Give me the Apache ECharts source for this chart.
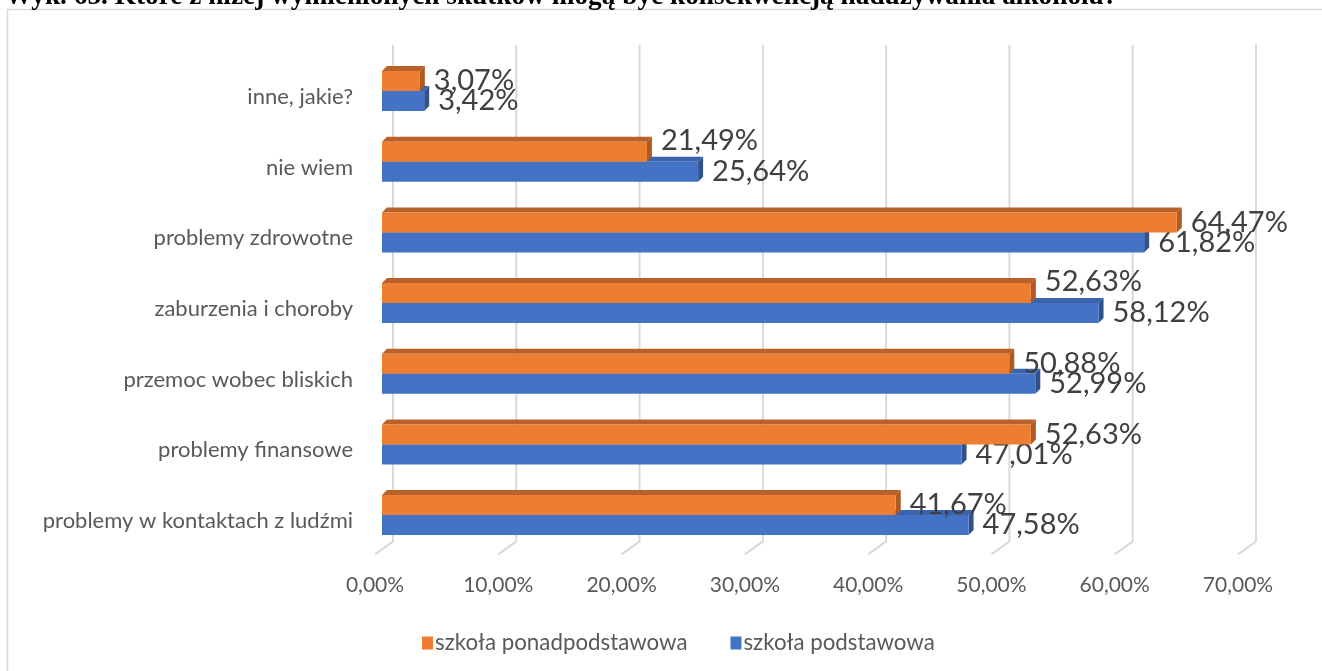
<!DOCTYPE html>
<html><head><meta charset="utf-8">
<script src="https://cdn.jsdelivr.net/npm/echarts@6/dist/echarts.min.js"></script>
<style>html,body{margin:0;padding:0;background:#fff}#c{width:1322px;height:671px}</style>
</head><body><div id="c"></div>
<script>
const titleText = 'Wyk. 65. Które z niżej wymienionych skutków mogą być konsekwencją nadużywania alkoholu?';
const categories = ['inne, jakie?','nie wiem','problemy zdrowotne','zaburzenia i choroby','przemoc wobec bliskich','problemy finansowe','problemy w kontaktach z ludźmi'];
const seriesNames = ['szkoła ponadpodstawowa','szkoła podstawowa'];
const ponadpodstawowa = [3.07, 21.49, 64.47, 52.63, 50.88, 52.63, 41.67];
const podstawowa = [3.42, 25.64, 61.82, 58.12, 52.99, 47.01, 47.58];
const xTicks = [0,10,20,30,40,50,60,70];

const raisedLabels = new Set(['nie wiem','zaburzenia i choroby']);
const FONT = 'Lato, "Open Sans", sans-serif';
const fmt = v => v.toFixed(2).replace('.', ',') + '%';
const DX = 5, DY = -5;

function barRenderer(sign, front, topC, side, raise) {
  return function (params, api) {
    const val = api.value(0), cat = api.value(1);
    const s = api.coord([0, cat]);
    const e = api.coord([val, cat]);
    const band = api.size([0, 1])[1];
    const h = band * 0.283;
    const yc = s[1] + sign * h / 2;
    const top = yc - h / 2;
    const x0 = s[0], x1 = e[0];
    let ly = yc;
    if (raise && raisedLabels.has(categories[cat])) ly -= 11;
    return {
      type: 'group',
      children: [
        { type: 'polygon', shape: { points: [[x0, top], [x0 + DX, top + DY], [x1 + DX, top + DY], [x1, top]] }, style: { fill: topC } },
        { type: 'polygon', shape: { points: [[x1, top], [x1 + DX, top + DY], [x1 + DX, top + DY + h], [x1, top + h]] }, style: { fill: side } },
        { type: 'rect', shape: { x: x0, y: top, width: x1 - x0, height: h }, style: { fill: front } },
        { type: 'text', z2: 10, style: { text: fmt(val), x: x1 + 14, y: ly, verticalAlign: 'middle', align: 'left', font: '29px ' + FONT, fill: '#404040' } }
      ]
    };
  };
}

function wallRenderer(params, api) {
  const v = api.value(0);
  const x = api.coord([v, 0])[0];
  const cs = params.coordSys;
  const bottom = cs.y + cs.height;
  return {
    type: 'polyline',
    shape: { points: [[x + 11, cs.y - 11], [x + 11, bottom - 9], [x - 7, bottom + 4]] },
    style: { stroke: '#D9D9D9', lineWidth: 2, fill: null }
  };
}

const chart = echarts.init(document.getElementById('c'));
chart.setOption({
  animation: false,
  backgroundColor: '#fff',
  title: { text: titleText, left: 0, top: -22, textStyle: { fontFamily: '"Liberation Serif", serif', fontWeight: 'bold', fontSize: 27.3, color: '#000' } },
  graphic: [{ type: 'rect', shape: { x: 7.5, y: 9.5, width: 1400, height: 800 }, style: { fill: null, stroke: '#D9D9D9', lineWidth: 1.5 }, silent: true, z: -1 }],
  legend: {
    left: 417, top: 627, itemWidth: 11, itemHeight: 13, itemGap: 43, icon: 'rect',
    textStyle: { fontFamily: FONT, fontSize: 22.3, color: '#595959', padding: [0, 0, 0, -3] },
    data: seriesNames
  },
  grid: [
    { left: 382, top: 55.7, width: 863, height: 494.7 },
    { left: 375, top: 55.7, width: 863, height: 494.7 }
  ],
  xAxis: [
    { gridIndex: 0, type: 'value', min: 0, max: 70, interval: 10, show: false },
    { gridIndex: 1, type: 'value', min: 0, max: 70, interval: 10,
      axisLine: { show: false }, axisTick: { show: false }, splitLine: { show: false },
      axisLabel: { margin: 24, formatter: fmt, fontFamily: FONT, fontSize: 21, color: '#595959' } }
  ],
  yAxis: [
    { gridIndex: 0, type: 'category', data: categories, inverse: true,
      axisLine: { show: false }, axisTick: { show: false }, splitLine: { show: false },
      axisLabel: { margin: 29, fontFamily: FONT, fontSize: 22, color: '#595959', verticalAlign: 'top', lineHeight: 12 } },
    { gridIndex: 1, type: 'category', data: categories, inverse: true, show: false }
  ],
  series: [
    { type: 'custom', name: 'wall', xAxisIndex: 0, yAxisIndex: 0, z: 1, silent: true,
      renderItem: wallRenderer, data: xTicks.map(v => [v, 0]) },
    { type: 'custom', name: seriesNames[1], xAxisIndex: 0, yAxisIndex: 0, z: 2,
      itemStyle: { color: '#4472C4' },
      renderItem: barRenderer(1, '#4472C4', '#3A64AE', '#2F528F', false),
      data: podstawowa.map((v, i) => [v, i]) },
    { type: 'custom', name: seriesNames[0], xAxisIndex: 0, yAxisIndex: 0, z: 3,
      itemStyle: { color: '#ED7D31' },
      renderItem: barRenderer(-1, '#ED7D31', '#B9612A', '#AE5A21', true),
      data: ponadpodstawowa.map((v, i) => [v, i]) }
  ]
});
</script></body></html>
